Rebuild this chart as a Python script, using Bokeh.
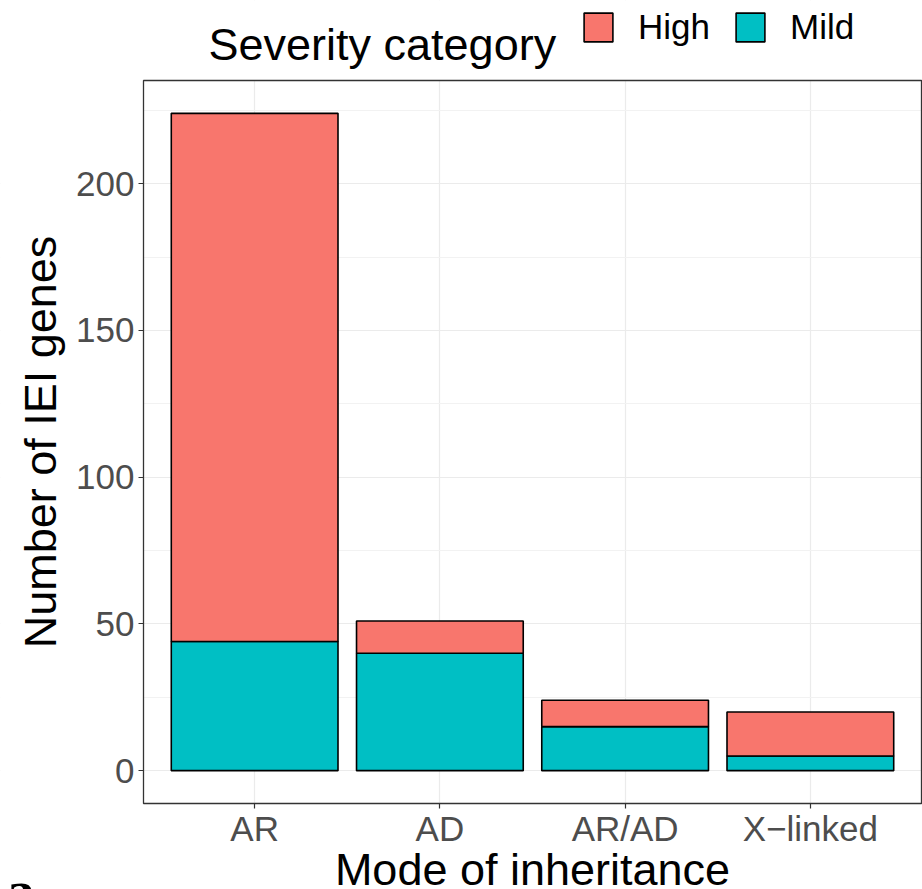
import math
from bokeh.plotting import figure
from bokeh.models import (ColumnDataSource, Range1d, FixedTicker, Label, Legend,
                          LegendItem, BoxAnnotation)
from bokeh.embed import file_html
from bokeh.resources import INLINE

# ---- data ----
categories = ["AR", "AD", "AR/AD", "X\u2212linked"]
mild = [44, 40, 15, 5]
high = [180, 11, 9, 15]
severity_levels = ["High", "Mild"]
colors = {"High": "#F8766D", "Mild": "#00BFC4"}
y_ticks = [0, 50, 100, 150, 200]
y_minor_ticks = [25, 75, 125, 175, 225]

FONT = "Liberation Sans"
TITLE_SIZE = "45px"
W, H = 922, 889
FL, FR, FT, FB = 143, 921, 80, 803   # panel box on the page

x_pos = list(range(1, len(categories) + 1))
source = ColumnDataSource(dict(x=x_pos, Mild=mild, High=high))

# panel data limits (ggplot-like expansion)
X0, X1 = 0.4, len(categories) + 0.6
totals = [m + h for m, h in zip(mild, high)]
ymax = max(totals)
Y0, Y1 = -0.05 * ymax, ymax * 1.05

# the frame covers the whole canvas; extend ranges so the panel lands at FL..FR / FT..FB
kx = (X1 - X0) / (FR - FL)
ky = (Y1 - Y0) / (FB - FT)
xr = Range1d(X0 - FL * kx, X1 + (W - FR) * kx)
yr = Range1d(Y0 - (H - FB) * ky, Y1 + FT * ky)


def dx(px):
    return X0 + (px - FL) * kx


def dy(py):
    return Y0 + (FB - py) * ky


p = figure(width=W, height=H, output_backend="svg", toolbar_location=None,
           x_range=xr, y_range=yr, min_border=0, min_border_left=0,
           min_border_right=0, min_border_top=0, min_border_bottom=0)
p.background_fill_color = "white"
p.border_fill_color = "white"
p.outline_line_color = None

# grid
p.xgrid.ticker = FixedTicker(ticks=x_pos)
p.xgrid.grid_line_color = "#EBEBEB"
p.xgrid.grid_line_width = 1.2
p.ygrid.ticker = FixedTicker(ticks=y_ticks, minor_ticks=y_minor_ticks)
p.ygrid.grid_line_color = "#EBEBEB"
p.ygrid.grid_line_width = 1.2
p.ygrid.minor_grid_line_color = "#F2F2F2"
p.ygrid.minor_grid_line_width = 1.0

# white masks outside the panel (hide grid lines there)
for kw in (dict(bottom=Y1), dict(top=Y0), dict(right=X0), dict(left=X1)):
    p.add_layout(BoxAnnotation(fill_color="white", fill_alpha=1.0, line_color=None,
                               level="underlay", **kw))

renderers = p.vbar_stack(["Mild", "High"], x="x", width=0.9, source=source,
                         fill_color=[colors["Mild"], colors["High"]],
                         line_color="black", line_width=1.6)

# panel border
p.add_layout(BoxAnnotation(left=X0, right=X1, bottom=Y0, top=Y1, fill_alpha=0,
                           line_color="#333333", line_alpha=1.0, line_width=1.3))

# axes at fixed locations on the panel edges
for ax in (p.xaxis[0], p.yaxis[0]):
    ax.axis_line_color = None
    ax.major_tick_line_color = "#333333"
    ax.major_tick_line_width = 1.2
    ax.major_tick_out = 5
    ax.major_tick_in = 0
    ax.minor_tick_line_color = None
    ax.major_label_text_font = FONT
    ax.major_label_text_font_size = "35px"
    ax.major_label_text_color = "#4D4D4D"
    ax.axis_label_text_font = FONT
    ax.axis_label_text_font_size = TITLE_SIZE
    ax.axis_label_text_font_style = "normal"
    ax.axis_label_text_color = "black"

p.xaxis.fixed_location = Y0
p.xaxis.bounds = (X0, X1)
p.yaxis.fixed_location = X0
p.yaxis.bounds = (Y0, Y1)
p.xaxis.ticker = FixedTicker(ticks=x_pos)
p.xaxis.major_label_overrides = {x: c for x, c in zip(x_pos, categories)}
p.xaxis.major_label_standoff = 0
p.xaxis.axis_label = "Mode of inheritance"
p.xaxis.axis_label_standoff = -7
p.yaxis.ticker = FixedTicker(ticks=y_ticks)
p.yaxis.major_label_standoff = 4
p.yaxis.axis_label = "Number of IEI genes"
p.yaxis.axis_label_standoff = 7

# panel tag (only its top shows, as in the original)
p.add_layout(Label(x=dx(6), y=dy(859), text="a", text_font="Liberation Serif",
                   text_font_style="bold", text_font_size="56px", text_color="black",
                   text_align="left", text_baseline="top"))

# legend title + keys
p.add_layout(Label(x=dx(208), y=dy(44), text="Severity category", text_font=FONT,
                   text_font_size=TITLE_SIZE, text_color="black",
                   text_align="left", text_baseline="alphabetic"))
legend = Legend(items=[LegendItem(label="High", renderers=[renderers[1]]),
                       LegendItem(label="Mild", renderers=[renderers[0]])],
                orientation="horizontal", location=(580, H - 7 - 40),
                glyph_width=36, glyph_height=36, label_height=36,
                label_standoff=22, spacing=22, padding=0, margin=0,
                border_line_color=None, background_fill_alpha=0,
                label_text_font=FONT, label_text_font_size="35px",
                label_text_color="black")
p.add_layout(legend, "center")

open("out.html", "w").write(file_html(p, INLINE))
